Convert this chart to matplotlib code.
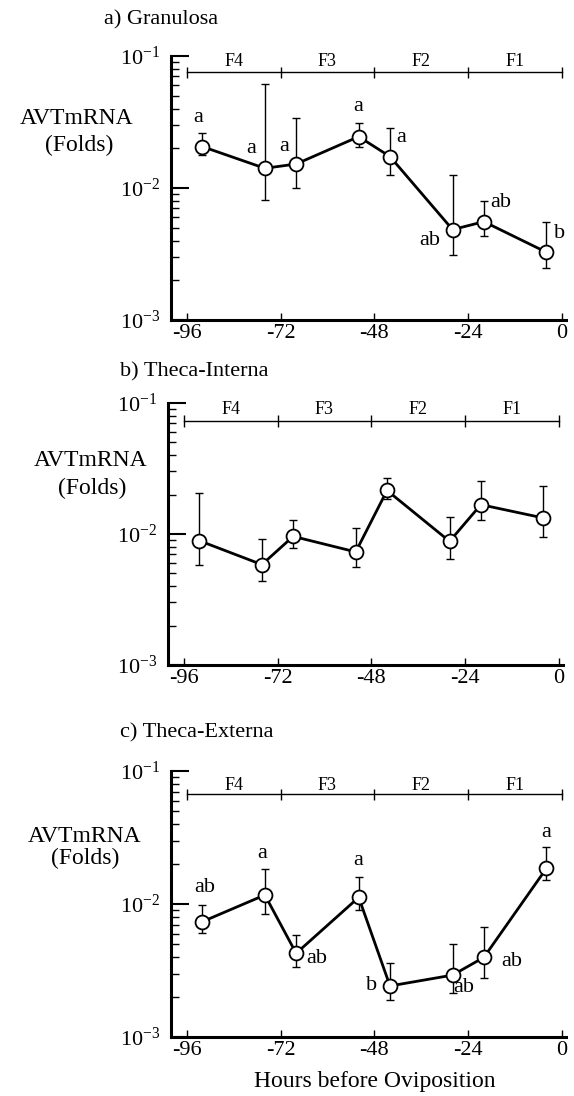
import matplotlib
matplotlib.use("Agg")
import matplotlib.pyplot as plt
import matplotlib.transforms as mtransforms
from matplotlib.ticker import LogLocator, NullFormatter

plt.rcParams['font.family'] = ['Liberation Serif', 'DejaVu Serif']
plt.rcParams['mathtext.fontset'] = 'stix'
plt.rcParams['axes.unicode_minus'] = False

# ---- data ----
hours = [-92, -76, -68, -52, -44, -28, -20, -4]

gran_mean = [0.0206, 0.0141, 0.0152, 0.0245, 0.0173, 0.00484, 0.00556, 0.00326]
gran_hi = [0.0262, 0.0614, 0.0337, 0.0313, 0.0286, 0.0125, 0.00797, 0.00556]
gran_lo = [0.0178, 0.0081, 0.0100, 0.0206, 0.0125, 0.0031, 0.00433, 0.00247]
gran_letters = ['a', 'a', 'a', 'a', 'a', 'ab', 'ab', 'b']

ti_mean = [0.00889, 0.00584, 0.00959, 0.00730, 0.0215, 0.00879, 0.01675, 0.01325]
ti_hi = [0.0206, 0.00916, 0.0129, 0.0112, 0.0267, 0.0136, 0.0252, 0.0234]
ti_lo = [0.00584, 0.00435, 0.00781, 0.00557, 0.0185, 0.00644, 0.0129, 0.00948]

te_mean = [0.00736, 0.01169, 0.00426, 0.01122, 0.00242, 0.00292, 0.00397, 0.01855]
te_hi = [0.00982, 0.0182, 0.00585, 0.0160, 0.00358, 0.00498, 0.00675, 0.0270]
te_lo = [0.00603, 0.00837, 0.00338, 0.00902, 0.0019, 0.00213, 0.00276, 0.0151]
te_letters = ['ab', 'a', 'ab', 'a', 'b', 'ab', 'ab', 'a']

stage_names = ['F4', 'F3', 'F2', 'F1']
stage_edges = [-96, -72, -48, -24, 0]
hour_ticks = [-96, -72, -48, -24, 0]

# ---- layout (pixels) ----
W, H = 574, 1096
fig = plt.figure(figsize=(W / 100, H / 100), dpi=100)


def rect(l, t, r, b):
    return [l / W, 1 - b / H, (r - l) / W, (b - t) / H]


def ftext(x, y, s, **kw):
    fig.text(x / W, 1 - y / H, s, **kw)


# letter offsets in pixels (dx right, dy up)
gran_offs = [(-4, 29), (-14, 20), (-12, 17), (-1, 30), (11, 19), (-23, -11), (17, 19), (13, 19)]
te_offs = [(2, 34), (-3, 41), (21, -5), (-1, 37), (-18, 0), (11, -12), (28, -4), (0, 36)]

panels = [
    dict(box=(171, 56, 566, 320), mean=gran_mean, hi=gran_hi, lo=gran_lo,
         letters=gran_letters, offs=gran_offs, br=(0.938, 0.978),
         title='a) Granulosa', tpos=(104, 20), ylab=((77, 119), (79, 145))),
    dict(box=(168, 403, 563, 665), mean=ti_mean, hi=ti_hi, lo=ti_lo,
         letters=None, offs=None, br=(0.932, 0.974),
         title='b) Theca-Interna', tpos=(120, 372), ylab=((91, 461), (92, 488))),
    dict(box=(171, 771, 566, 1037), mean=te_mean, hi=te_hi, lo=te_lo,
         letters=te_letters, offs=te_offs, br=(0.912, 0.947),
         title='c) Theca-Externa', tpos=(120, 733), ylab=((85, 836), (85, 858))),
]

for p in panels:
    ax = fig.add_axes(rect(*p['box']))
    ax.set_yscale('log')
    ax.set_ylim(1e-3, 1e-1)
    ax.set_xlim(-100, 1)

    m = p['mean']
    yerr = [[mi - lo for mi, lo in zip(m, p['lo'])],
            [hi - mi for mi, hi in zip(m, p['hi'])]]
    ax.errorbar(hours, m, yerr=yerr, fmt='none', ecolor='k',
                elinewidth=1.0, capsize=3, capthick=1.0, zorder=2)
    ax.plot(hours, m, '-o', color='k', lw=2.0, ms=10, mfc='white',
            mec='k', mew=1.3, zorder=3)

    if p['letters']:
        for h, v, s, (dx, dy) in zip(hours, m, p['letters'], p['offs']):
            ax.annotate(s, (h, v), xytext=(dx, dy), textcoords='offset pixels',
                        ha='center', va='center', fontsize=16)

    # follicle stage bracket at the top
    tr = mtransforms.blended_transform_factory(ax.transData, ax.transAxes)
    yl, yt = p['br']
    ax.plot([stage_edges[0], stage_edges[-1]], [yl, yl], color='k', lw=1.0,
            transform=tr, clip_on=False)
    ax.vlines(stage_edges, yl - 0.022, yl + 0.022, color='k', lw=1.0,
              transform=tr, clip_on=False)
    for i, name in enumerate(stage_names):
        xc = (stage_edges[i] + stage_edges[i + 1]) / 2
        ax.text(xc, yt, name, transform=tr, ha='center', va='center', fontsize=13)

    # axes styling
    for side in ('top', 'right'):
        ax.spines[side].set_visible(False)
    for side in ('left', 'bottom'):
        ax.spines[side].set_linewidth(2.2)
    ax.set_xticks(hour_ticks)
    ax.set_xticklabels([str(h) for h in hour_ticks])
    ax.yaxis.set_major_locator(LogLocator(base=10, numticks=5))
    ax.yaxis.set_minor_locator(LogLocator(base=10, subs=range(2, 10), numticks=20))
    ax.yaxis.set_minor_formatter(NullFormatter())
    ax.tick_params(axis='y', which='major', direction='in', length=13, width=1.5,
                   labelsize=16, pad=8)
    ax.tick_params(axis='y', which='minor', direction='in', length=6, width=1.0)
    ax.tick_params(axis='x', which='major', direction='in', length=5, width=1.0,
                   labelsize=16, pad=3)

    ftext(*p['tpos'], p['title'], ha='left', va='center', fontsize=16)
    (x1, y1), (x2, y2) = p['ylab']
    ftext(x1, y1, 'AVTmRNA', ha='center', va='center', fontsize=17)
    ftext(x2, y2, '(Folds)', ha='center', va='center', fontsize=17)

ftext(375, 1081, 'Hours before Oviposition', ha='center', va='center', fontsize=17)

fig.savefig('out.png', dpi=100)
